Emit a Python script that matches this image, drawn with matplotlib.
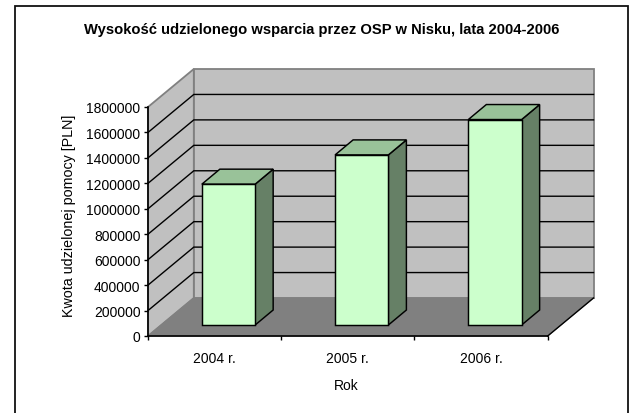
import matplotlib
matplotlib.use("Agg")
import matplotlib.pyplot as plt
from matplotlib.patches import Polygon

plt.rcParams['font.family'] = ['Liberation Sans', 'DejaVu Sans']

categories = ["2004 r.", "2005 r.", "2006 r."]
values = [1107000, 1337000, 1615000]
y_ticks = [0, 200000, 400000, 600000, 800000, 1000000, 1200000, 1400000, 1600000, 1800000]
title = "Wysokość udzielonego wsparcia przez OSP w Nisku, lata 2004-2006"
x_title = "Rok"
y_title = "Kwota udzielonej pomocy [PLN]"

W, H = 634, 414
fig = plt.figure(figsize=(W / 100, H / 100), dpi=100, facecolor="white")
L, R, T, B = 148.0, 547.7, 108.0, 337.0
ax = fig.add_axes([L / W, 1 - B / H, (R - L) / W, (B - T) / H])
ymax = y_ticks[-1]
ax.set_xlim(0, len(categories))
ax.set_ylim(0, ymax)
ax.patch.set_visible(False)

ux = len(categories) / (R - L)     # data per pixel, x
uy = ymax / (B - T)                # data per pixel, y
WX, WY = 45.8 * ux, 38.0 * uy      # depth of the chart box
BX, BY = 18.0 * ux, 15.0 * uy      # depth of a bar
OX, OY = (WX - BX) / 2, 11.0 * uy
BAR_W = 0.4
n = len(categories)
GREY = "#808080"


def poly(pts, fc, ec, lw, z):
    ax.add_patch(Polygon(pts, closed=True, facecolor=fc, edgecolor=ec, linewidth=lw,
                         zorder=z, clip_on=False, joinstyle="miter"))


# walls and floor
poly([(0, 0), (WX, WY), (WX, ymax + WY), (0, ymax)], "#C0C0C0", GREY, 1.3, 1)
poly([(WX, WY), (n + WX, WY), (n + WX, ymax + WY), (WX, ymax + WY)], "#C0C0C0", GREY, 1.3, 1)
poly([(0, 0), (n, 0), (n + WX, WY), (WX, WY)], GREY, GREY, 0.8, 1.5)

# gridlines
for t in y_ticks[1:-1]:
    ax.plot([0, WX, n + WX], [t, t + WY, t + WY], color="#000000", lw=1.0, zorder=2,
            clip_on=False, solid_joinstyle="miter")
ax.plot([n, n + WX], [0, WY], color="#000000", lw=1.0, zorder=2, clip_on=False)

# bars
for i, v in enumerate(values):
    x0 = i + 0.5 - BAR_W / 2 + OX
    x1 = x0 + BAR_W
    y0 = OY
    y1 = OY + v
    poly([(x1, y0), (x1 + BX, y0 + BY), (x1 + BX, y1 + BY), (x1, y1)], "#668066", "black", 1.05, 3)
    poly([(x0, y1), (x1, y1), (x1 + BX, y1 + BY), (x0 + BX, y1 + BY)], "#99C299", "black", 1.05, 3)
    poly([(x0, y0), (x1, y0), (x1, y1), (x0, y1)], "#CCFFCC", "black", 1.05, 3.1)

# axes
for s in ("top", "right"):
    ax.spines[s].set_visible(False)
for s in ("left", "bottom"):
    ax.spines[s].set_linewidth(1.2)
    ax.spines[s].set_zorder(5)
ax.set_yticks(y_ticks)
ax.set_yticklabels([str(t) for t in y_ticks], fontsize=10, color="black")
ax.tick_params(axis="y", length=3, width=1.0, pad=2.4)
ax.set_xticks(range(n + 1))
ax.set_xticklabels([""] * (n + 1))
ax.tick_params(axis="x", which="major", length=3, width=1.0)
ax.set_xticks([i + 0.5 for i in range(n)], minor=True)
ax.set_xticklabels(categories, minor=True, fontsize=10)
ax.tick_params(axis="x", which="minor", length=0, pad=11)

fig.text(346.7 / W, 1 - 386 / H, x_title, fontsize=10, ha="center", va="center")
fig.text(68.5 / W, 1 - 216 / H, y_title, fontsize=10.25, rotation=90, ha="center", va="center")
fig.text(322 / W, 1 - 30 / H, title, fontsize=10.65, fontweight="bold", ha="center", va="center")

# chart frame
fig.add_artist(plt.Line2D([15.3 / W, 15.3 / W, 627.8 / W, 627.8 / W],
                          [0, 1 - 6.8 / H, 1 - 6.8 / H, 0], color="#111111", lw=1.3,
                          solid_joinstyle="miter", transform=fig.transFigure))

fig.savefig("out.png", dpi=100, facecolor="white")
